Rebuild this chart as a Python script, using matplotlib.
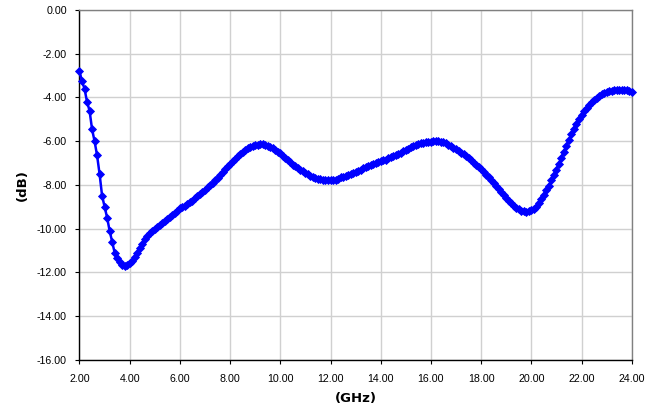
import matplotlib.pyplot as plt
import numpy as np

# S-parameter sweep, 2 - 24 GHz in 0.1 GHz steps
DB_VALUES = [
    -2.80, -3.25, -3.60, -4.20, -4.60, -5.45, -6.00, -6.65, -7.50, -8.50,
    -9.00, -9.50, -10.10, -10.60, -11.10, -11.37, -11.55, -11.65, -11.70, -11.68,
    -11.60, -11.48, -11.30, -11.10, -10.90, -10.70, -10.50, -10.34, -10.20, -10.09,
    -10.00, -9.91, -9.83, -9.74, -9.65, -9.55, -9.45, -9.37, -9.28, -9.18,
    -9.08, -9.01, -8.95, -8.88, -8.80, -8.72, -8.62, -8.52, -8.42, -8.32,
    -8.22, -8.12, -8.02, -7.92, -7.80, -7.68, -7.55, -7.42, -7.28, -7.16,
    -7.05, -6.93, -6.82, -6.70, -6.58, -6.48, -6.40, -6.32, -6.26, -6.21,
    -6.18, -6.16, -6.15, -6.15, -6.17, -6.20, -6.26, -6.32, -6.40, -6.48,
    -6.56, -6.66, -6.76, -6.87, -6.97, -7.07, -7.16, -7.24, -7.31, -7.38,
    -7.45, -7.52, -7.58, -7.63, -7.67, -7.71, -7.74, -7.77, -7.79, -7.80,
    -7.80, -7.79, -7.76, -7.71, -7.66, -7.62, -7.58, -7.54, -7.50, -7.46,
    -7.41, -7.36, -7.30, -7.25, -7.19, -7.14, -7.09, -7.04, -7.00, -6.96,
    -6.92, -6.88, -6.84, -6.79, -6.74, -6.70, -6.64, -6.58, -6.52, -6.46,
    -6.41, -6.35, -6.29, -6.23, -6.18, -6.14, -6.10, -6.07, -6.05, -6.03,
    -6.02, -6.01, -6.01, -6.01, -6.02, -6.05, -6.10, -6.16, -6.23, -6.30,
    -6.37, -6.45, -6.53, -6.61, -6.69, -6.78, -6.88, -6.98, -7.08, -7.18,
    -7.29, -7.41, -7.53, -7.66, -7.79, -7.92, -8.06, -8.20, -8.34, -8.48,
    -8.60, -8.72, -8.84, -8.95, -9.05, -9.12, -9.18, -9.21, -9.22, -9.20,
    -9.16, -9.10, -9.00, -8.85, -8.63, -8.45, -8.25, -8.03, -7.80, -7.56,
    -7.30, -7.04, -6.76, -6.48, -6.20, -5.94, -5.68, -5.43, -5.20, -4.98,
    -4.80, -4.63, -4.48, -4.34, -4.22, -4.11, -4.01, -3.93, -3.86, -3.80,
    -3.76, -3.72, -3.70, -3.68, -3.67, -3.66, -3.66, -3.66, -3.67, -3.69,
    -3.73,
]
FREQ_START = 2.0
FREQ_STOP = 24.0

X_TICKS = [2, 4, 6, 8, 10, 12, 14, 16, 18, 20, 22, 24]
Y_TICKS = [0, -2, -4, -6, -8, -10, -12, -14, -16]


def main() -> None:
    freq = np.linspace(FREQ_START, FREQ_STOP, len(DB_VALUES))

    fig = plt.figure(figsize=(6.57, 4.11), dpi=100)
    ax = fig.add_axes([0.121, 0.125, 0.8405, 0.8505])

    ax.plot(
        freq, DB_VALUES,
        color="#0000FF", linewidth=1.8,
        marker="D", markersize=4.3, markeredgewidth=0.6,
        clip_on=False, zorder=3,
    )

    ax.set_xlim(2, 24)
    ax.set_ylim(-16, 0)
    ax.set_xticks(X_TICKS)
    ax.set_yticks(Y_TICKS)
    ax.set_xticklabels([f"{t:.2f}" for t in X_TICKS])
    ax.set_yticklabels([f"{t:.2f}" for t in Y_TICKS])
    ax.tick_params(axis="both", direction="out", length=3, width=0.8,
                   labelsize=7.7, pad=6)
    ax.tick_params(axis="x", pad=7)
    for lbl in ax.get_xticklabels() + ax.get_yticklabels():
        lbl.set_family("Liberation Sans")

    ax.grid(True, color="#D0D0D0", linewidth=1.0)
    ax.set_axisbelow(True)
    ax.spines["left"].set_color("black")
    ax.spines["bottom"].set_color("black")
    ax.spines["top"].set_color("#808080")
    ax.spines["right"].set_color("#808080")
    for s in ax.spines.values():
        s.set_linewidth(1.0)

    ax.set_xlabel("(GHz)", fontsize=9.5, fontweight="bold", labelpad=6)
    ax.set_ylabel("(dB)", fontsize=9.5, fontweight="bold", labelpad=6)

    fig.savefig("out.png", dpi=100)
    plt.close(fig)


if __name__ == "__main__":
    main()
